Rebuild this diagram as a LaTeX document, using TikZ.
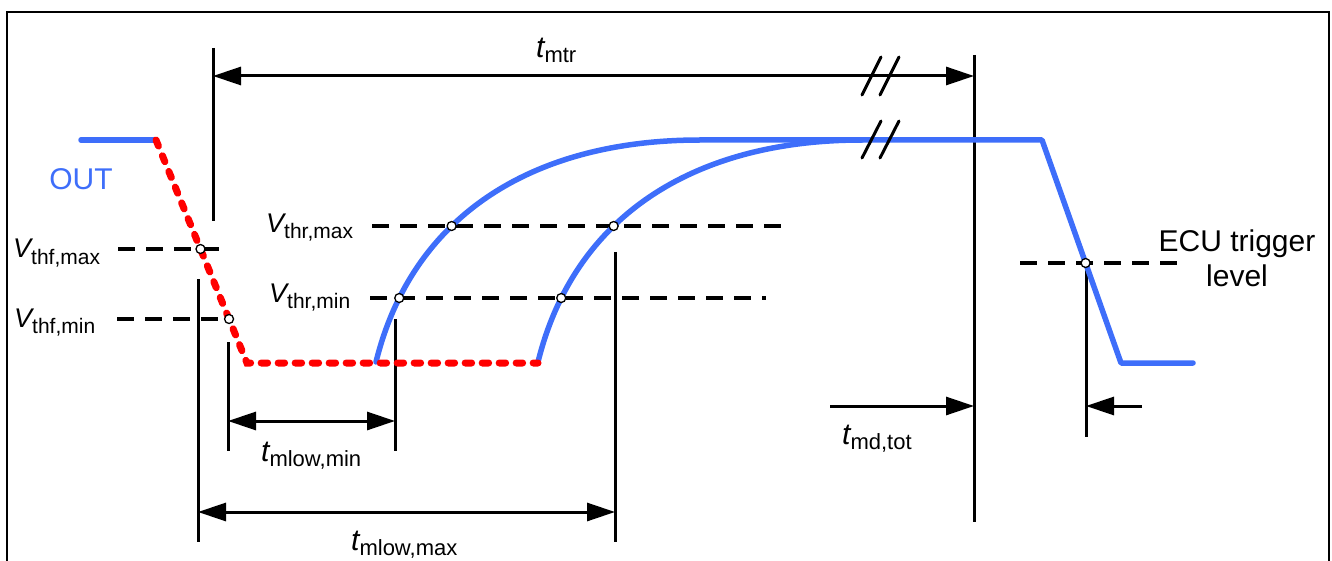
\documentclass[tikz,border=0pt]{standalone}
\usepackage{fontspec}
\setmainfont{Liberation Sans}
\usetikzlibrary{arrows.meta,intersections}
\definecolor{sigblue}{RGB}{62,110,250}
\definecolor{sigred}{RGB}{255,0,0}
\newcommand{\tlab}[1]{{\fontsize{30}{30}\selectfont\itshape t}\raisebox{-5pt}{\fontsize{22}{22}\selectfont #1}}
\newcommand{\vlab}[1]{{\fontsize{27}{27}\selectfont\itshape V}\raisebox{-6pt}{\fontsize{21}{21}\selectfont #1}}
\tikzset{
  frameline/.style={line width=2pt},
  guide/.style={line width=3pt},
  dimboth/.style={line width=3pt,{Triangle[length=28pt,width=18pt]}-{Triangle[length=28pt,width=18pt]}},
  dimone/.style={line width=3pt,-{Triangle[length=28pt,width=18pt]}},
  thr/.style={line width=3.5pt,dash pattern=on 17pt off 11pt},
  sig/.style={sigblue,line width=5.5pt,line cap=round,line join=round},
  lowsig/.style={sigred,line width=7pt,line cap=round,dash pattern=on 6.5pt off 10.5pt},
  dotmark/.style={circle,draw,fill=white,line width=1.3pt,inner sep=0pt,minimum size=9pt},
  brk/.style={line width=3pt,line cap=round},
  lbl/.style={inner sep=0pt,anchor=base west}
}
\begin{document}
\begin{tikzpicture}[x=1pt,y=-1pt]
\useasboundingbox (0,0) rectangle (1332,561);
% frame
\draw[frameline] (7,561) -- (7,12) -- (1329,12) -- (1329,561);

% vertical reference lines
\coordinate (vA1) at (213,48);   \coordinate (vA2) at (213,221);
\coordinate (vB1) at (198,279);  \coordinate (vB2) at (198,542);
\coordinate (vC1) at (228,342);  \coordinate (vC2) at (228,451);
\coordinate (vD1) at (395,319);  \coordinate (vD2) at (395,451);
\coordinate (vE1) at (615,252);  \coordinate (vE2) at (615,542);
\coordinate (vF1) at (974,55);   \coordinate (vF2) at (974,522);
\coordinate (vG1) at (1086,263); \coordinate (vG2) at (1086,437);
\foreach \v in {A,B,C,D,E,F,G}{\draw[guide] (v\v1) -- (v\v2);}

% threshold lines
\draw[thr,name path=thfmax] (118,249) -- (229,249);
\draw[thr,name path=thfmin] (117,319) -- (231,319);
\draw[thr,name path=thrmax] (372,226) -- (790,226);
\draw[thr,name path=thrmin] (370,298) -- (766,298);
\draw[thr,name path=ecu] (1020,263) -- (1185,263);

% dimension arrows
\coordinate (mtrL) at (vA1 |- 0,76);  \coordinate (mtrR) at (vF1 |- 0,76);
\draw[dimboth] (mtrL) -- (mtrR);
\coordinate (mnL) at (vC1 |- 0,421); \coordinate (mnR) at (vD1 |- 0,421);
\draw[dimboth] (mnL) -- (mnR);
\coordinate (mxL) at (vB1 |- 0,512); \coordinate (mxR) at (vE1 |- 0,512);
\draw[dimboth] (mxL) -- (mxR);
\coordinate (mdS) at (830,406); \coordinate (mdE) at (vF1 |- 0,406);
\draw[dimone] (mdS) -- (mdE);
\coordinate (ecS) at (1142,406); \coordinate (ecE) at (vG1 |- 0,406);
\draw[dimone] (ecS) -- (ecE);

% signal OUT (blue)
\draw[sig] (81,140) -- (156,140);
\draw[sig,name path=curve1] (376,362) .. controls (412,216) and (532,140) .. (700,140) -- (1042,140) -- (1121,363) -- (1193,363);
\draw[sig,name path=curve2] (538,362) .. controls (574,216) and (694,140) .. (862,140);

% red dotted falling / low phase
\draw[lowsig,name path=fall] (156,140) -- (247,363) -- (538,363);

% break marks
\draw[brk] (862,95) -- (881,57);
\draw[brk] (880,95) -- (899,57);
\draw[brk] (862,158) -- (881,121);
\draw[brk] (880,158) -- (899,121);

% intersection dots
\path[name intersections={of=fall and thfmax,by=p1}];
\path[name intersections={of=fall and thfmin,by=p2}];
\path[name intersections={of=curve1 and thrmax,by=p3}];
\path[name intersections={of=curve1 and thrmin,by=p4}];
\path[name intersections={of=curve2 and thrmax,by=p5}];
\path[name intersections={of=curve2 and thrmin,by=p6}];
\path[name intersections={of=curve1 and ecu,by=p7}];
\foreach \p in {p1,p2,p3,p4,p5,p6,p7}{\node[dotmark] at (\p) {};}

% labels
\node[text=sigblue,font=\fontsize{30}{30}\selectfont] (out) at (81,179) {OUT};
\node[lbl] (tmtr) at (536,58) {\tlab{mtr}};
\node[lbl] (vfmax) at (13,258) {\vlab{thf,max}};
\node[lbl] (vfmin) at (14,327) {\vlab{thf,min}};
\node[lbl] (vrmax) at (266,233) {\vlab{thr,max}};
\node[lbl] (vrmin) at (269,302) {\vlab{thr,min}};
\node[lbl] (tmin) at (261,461) {\tlab{mlow,min}};
\node[lbl] (tmax) at (351,550) {\tlab{mlow,max}};
\node[lbl] (tmd) at (842,444) {\tlab{md,tot}};
\node[align=center,font=\fontsize{30}{35}\selectfont,inner sep=0pt] (ecutxt) at (1237,258) {ECU trigger\\level};
\end{tikzpicture}
\end{document}
